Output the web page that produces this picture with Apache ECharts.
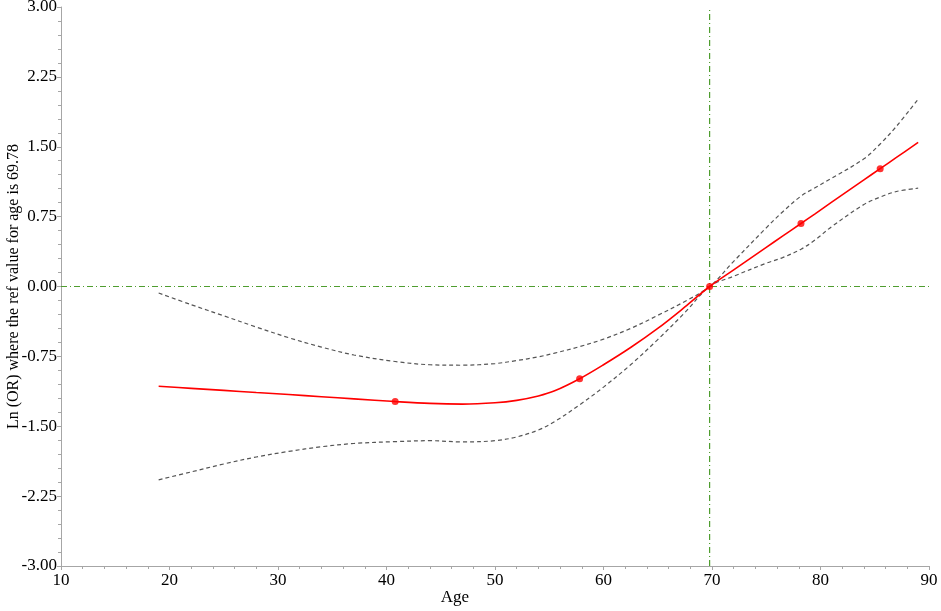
<!DOCTYPE html>
<html>
<head>
<meta charset="utf-8">
<script src="https://cdn.jsdelivr.net/npm/echarts@6/dist/echarts.min.js"></script>
<style>html,body{margin:0;padding:0;background:#fff}#chart{width:941px;height:611px}</style>
</head>
<body>
<div id="chart"></div>
<script>
// Data
var ages = [19, 22, 25, 28, 31, 34, 37, 40.8, 44, 47, 50, 52, 54, 55.5, 57.8, 60, 62.5, 65, 67.5, 69.78, 72, 75, 76.5, 78.2, 79.5, 81, 84, 85.5, 87, 89];
var estimate = [-1.07, -1.093, -1.115, -1.138, -1.16, -1.183, -1.206, -1.235, -1.255, -1.262, -1.248, -1.222, -1.175, -1.12, -0.99, -0.84, -0.655, -0.45, -0.22, 0, 0.179, 0.42, 0.54, 0.676, 0.78, 0.902, 1.144, 1.265, 1.385, 1.546];
var upperCI = [-0.07, -0.195, -0.315, -0.435, -0.55, -0.65, -0.735, -0.805, -0.84, -0.845, -0.827, -0.795, -0.755, -0.715, -0.645, -0.565, -0.45, -0.31, -0.16, 0, 0.27, 0.63, 0.80, 0.97, 1.06, 1.16, 1.37, 1.53, 1.72, 2.01];
var lowerCI = [-2.075, -1.99, -1.905, -1.83, -1.77, -1.72, -1.685, -1.665, -1.655, -1.668, -1.655, -1.615, -1.54, -1.45, -1.27, -1.08, -0.84, -0.57, -0.28, 0, 0.11, 0.25, 0.31, 0.40, 0.50, 0.64, 0.88, 0.96, 1.02, 1.055];
var knotAges = [40.8, 57.8, 69.78, 78.2, 85.5];
var knotValues = [-1.235, -0.99, 0, 0.676, 1.265];
var refAge = 69.78;
var refLnOR = 0;
var yTicks = { min: -3, max: 3, step: 0.75 };
var xTicks = { min: 10, max: 90, step: 10 };

function pairs(xs, ys) { return xs.map(function (x, i) { return [x, ys[i]]; }); }

var font = 'Liberation Serif';
var axisGray = '#a6a6a6';
var refStyle = { color: '#4f9d2f', width: 1.2, type: [6, 3, 1, 3] };
var chart = echarts.init(document.getElementById('chart'), null, { renderer: 'canvas' });
chart.setOption({
  animation: false,
  backgroundColor: '#fff',
  grid: { left: 61, right: 12, top: 7, bottom: 45, containLabel: false, outerBoundsMode: 'none' },
  xAxis: {
    type: 'value', min: xTicks.min, max: xTicks.max, interval: xTicks.step,
    name: 'Age', nameLocation: 'middle', nameGap: 23, nameMoveOverlap: false,
    nameTextStyle: { fontFamily: font, fontSize: 17, color: '#000', padding: [0, 80, 0, 0] },
    axisLine: { show: true, onZero: false, lineStyle: { color: axisGray, width: 1 } },
    axisTick: { show: true, length: 4, lineStyle: { color: axisGray } },
    minorTick: { show: true, splitNumber: 5, length: 3, lineStyle: { color: axisGray } },
    axisLabel: { fontFamily: font, fontSize: 17, color: '#000', margin: 6 },
    splitLine: { show: false }
  },
  yAxis: {
    type: 'value', min: yTicks.min, max: yTicks.max, interval: yTicks.step,
    name: 'Ln (OR) where the ref value for age is 69.78', nameLocation: 'middle', nameGap: 39, nameMoveOverlap: false,
    nameTextStyle: { fontFamily: font, fontSize: 16, color: '#000' },
    axisLine: { show: true, onZero: false, lineStyle: { color: axisGray, width: 1 } },
    axisTick: { show: true, length: 4, lineStyle: { color: axisGray } },
    minorTick: { show: true, splitNumber: 5, length: 3, lineStyle: { color: axisGray } },
    axisLabel: { fontFamily: font, fontSize: 17, color: '#000', margin: 4,
      formatter: function (v) { return v.toFixed(2); } },
    splitLine: { show: false }
  },
  series: [
    {
      type: 'line', name: 'refV', data: [[refAge, yTicks.min], [refAge, yTicks.max]], symbol: 'none',
      lineStyle: refStyle, z: 2, silent: true
    },
    {
      type: 'line', name: 'refH', data: [[xTicks.min, refLnOR], [xTicks.max, refLnOR]], symbol: 'none',
      lineStyle: refStyle, z: 2, silent: true
    },
    {
      type: 'line', name: 'upper', data: pairs(ages, upperCI), smooth: 0.35, symbol: 'none',
      lineStyle: { color: '#555', width: 1.2, type: [4, 3] }, z: 3
    },
    {
      type: 'line', name: 'lower', data: pairs(ages, lowerCI), smooth: 0.35, symbol: 'none',
      lineStyle: { color: '#555', width: 1.2, type: [4, 3] }, z: 3
    },
    {
      type: 'line', name: 'estimate', data: pairs(ages, estimate), smooth: 0.35, symbol: 'none',
      lineStyle: { color: '#ff0000', width: 1.6 }, z: 4
    },
    {
      type: 'scatter', name: 'knots', data: pairs(knotAges, knotValues), symbol: 'circle', symbolSize: 7,
      itemStyle: { color: '#ff0000' }, z: 5
    }
  ]
});
</script>
</body>
</html>
